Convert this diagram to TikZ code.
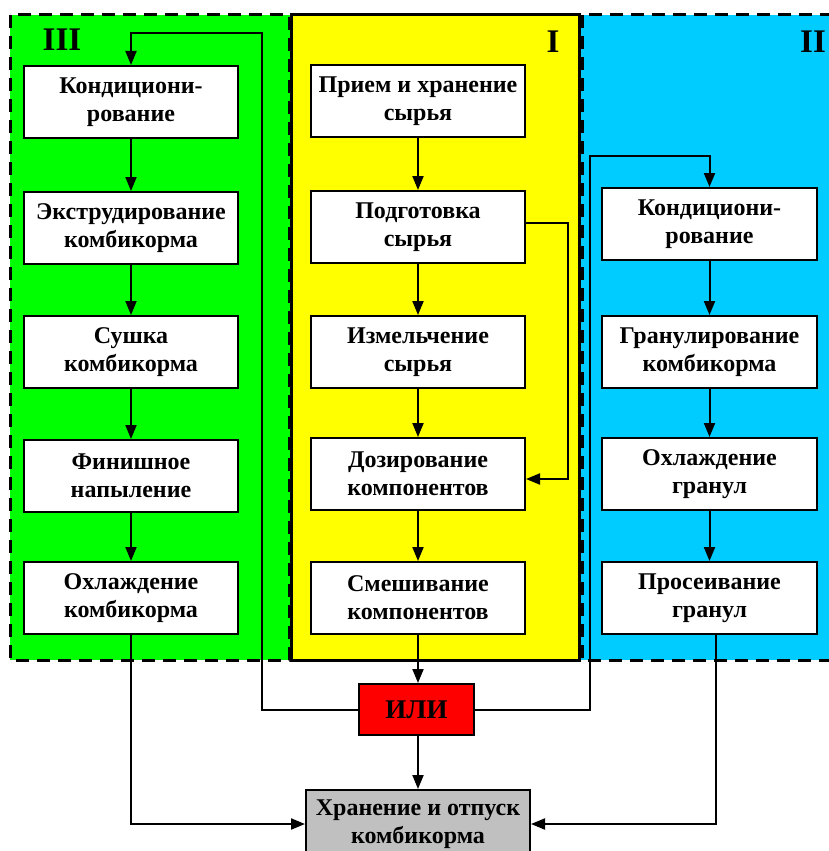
\documentclass[tikz,border=0pt]{standalone}
\usepackage{fontspec}
\setmainfont{Liberation Serif}
\usetikzlibrary{arrows.meta}
\definecolor{grn}{HTML}{00FF00}
\definecolor{yel}{HTML}{FFFF00}
\definecolor{cyn}{HTML}{00CCFF}
\definecolor{redc}{HTML}{FF0000}
\definecolor{gryc}{HTML}{C0C0C0}
\begin{document}
\begin{tikzpicture}[x=1pt,y=-1pt,
  box/.style={draw, line width=2pt, fill=white, minimum width=214pt, minimum height=72pt, inner sep=0pt, align=center, font=\fontsize{24}{28}\selectfont\bfseries},
  arr/.style={line width=2pt, -{Triangle[length=14pt,width=11pt]}},
  ln/.style={line width=2pt},
  dborder/.style={line width=3pt, dash pattern=on 13pt off 8pt},
  plabel/.style={font=\fontsize{33}{33}\selectfont\bfseries, inner sep=0pt}]
\useasboundingbox (0,0) rectangle (829,851);
% panels
\fill[grn] (10,15) rectangle (291,660);
\fill[yel] (291,15) rectangle (580,660);
\fill[cyn] (580,15) rectangle (845,660);
\draw[dborder] (10,15) rectangle (289,660);
\draw[dborder] (582,15) rectangle (850,660);
\draw[line width=3pt] (291,15) rectangle (579,660);
\node[plabel] (l3) at (62,40) {III};
\node[plabel] (l1) at (553,42) {I};
\node[plabel] (l2) at (813,42) {II};
% column III
\node[box] (k1) at (131,102) {Кондициони-\\рование};
\node[box] (k2) at (131,228) {Экструдирование\\комбикорма};
\node[box] (k3) at (131,352) {Сушка\\комбикорма};
\node[box] (k4) at (131,476) {Финишное\\напыление};
\node[box] (k5) at (131,598) {Охлаждение\\комбикорма};
% column I
\node[box] (p1) at (418,101) {Прием и хранение\\сырья};
\node[box] (p2) at (418,227) {Подготовка\\сырья};
\node[box] (p3) at (418,352) {Измельчение\\сырья};
\node[box] (p4) at (418,474) {Дозирование\\компонентов};
\node[box] (p5) at (418,598) {Смешивание\\компонентов};
% column II
\node[box, minimum width=215pt] (g1) at (709.5,224) {Кондициони-\\рование};
\node[box, minimum width=215pt] (g2) at (709.5,352) {Гранулирование\\комбикорма};
\node[box, minimum width=215pt] (g3) at (709.5,474) {Охлаждение\\гранул};
\node[box, minimum width=215pt] (g4) at (709.5,598) {Просеивание\\гранул};
% bottom
\node[box, fill=redc, minimum width=115pt, minimum height=51pt, font=\fontsize{27}{30}\selectfont\bfseries] (ili) at (416.5,709.5) {ИЛИ};
\node[box, fill=gryc, minimum width=224pt, minimum height=68pt] (st) at (418,824) {Хранение и отпуск\\комбикорма};
% vertical arrows
\foreach \a/\b in {k1/k2,k2/k3,k3/k4,k4/k5,p1/p2,p2/p3,p3/p4,p4/p5,g1/g2,g2/g3,g3/g4}
  \draw[arr] (\a.south) -- (\b.north);
% routes
\coordinate (c1) at (262,33);
\draw[arr] (ili.west) -| (c1) -| (k1.north);
\coordinate (c4) at (590,156);
\draw[arr] (ili.east) -| (c4) -| (g1.north);
\coordinate (c2) at (568,223);
\coordinate (c3) at (568,479);
\draw[arr] (p2.east |- c2) -- (c2) -- (c3) -- (p4.east |- c3);
\draw[arr] (p5.south) -- (p5.south |- ili.north);
\draw[arr] (ili.south -| p5.south) -- (st.north -| p5.south);
\draw[arr] (k5.south) |- (st.west);
\draw[arr] (g4.south -| 716,0) |- (st.east);
\end{tikzpicture}
\end{document}
